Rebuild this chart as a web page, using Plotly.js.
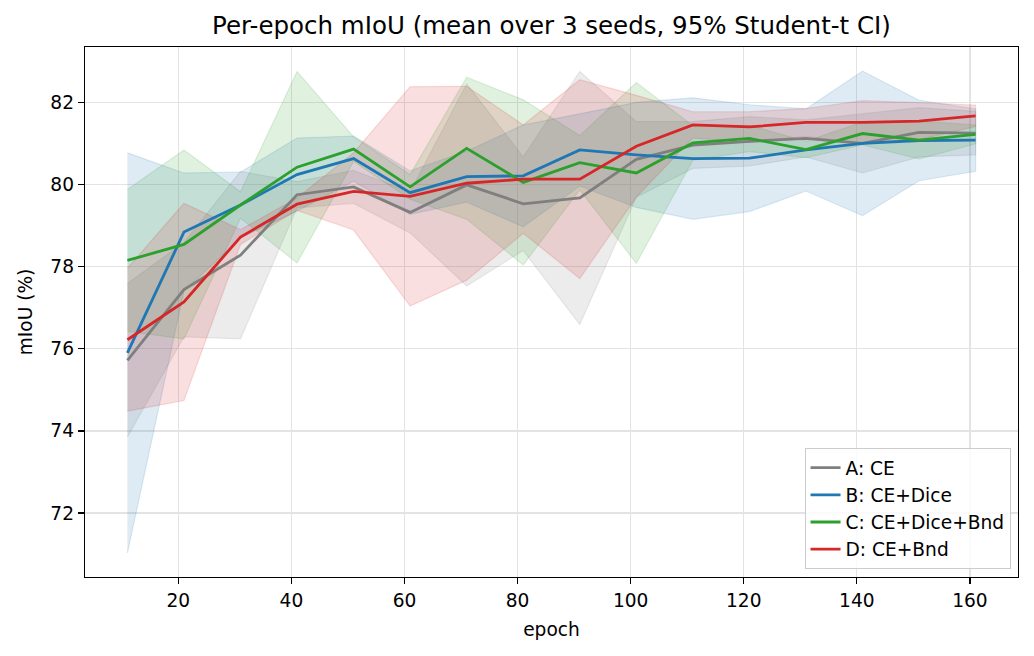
<!DOCTYPE html>
<html>
<head>
<meta charset="utf-8">
<script src="https://cdn.plot.ly/plotly-3.0.1.min.js"></script>
<style>
  html, body { margin: 0; padding: 0; background: #ffffff; }
  #chart { width: 1034px; height: 656px; }
</style>
</head>
<body>
<div id="chart"></div>
<script>
// Epochs (x)
const epochs = [11, 21, 31, 41, 51, 61, 71, 81, 91, 101, 111, 121, 131, 141, 151, 161];

// Series names
const seriesNames = ["A: CE", "B: CE+Dice", "C: CE+Dice+Bnd", "D: CE+Bnd"];

// Mean mIoU (%) per epoch
const meanA = [75.72, 77.44, 78.28, 79.75, 79.94, 79.32, 79.99, 79.53, 79.67, 80.61, 80.96, 81.05, 81.12, 81.00, 81.27, 81.25];
const meanB = [75.90, 78.84, 79.50, 80.24, 80.63, 79.80, 80.19, 80.21, 80.84, 80.72, 80.63, 80.64, 80.84, 81.00, 81.07, 81.08];
const meanC = [78.15, 78.54, 79.50, 80.42, 80.86, 79.94, 80.88, 80.05, 80.53, 80.28, 81.01, 81.12, 80.85, 81.24, 81.08, 81.22];
const meanD = [76.22, 77.14, 78.72, 79.52, 79.83, 79.71, 80.03, 80.13, 80.13, 80.93, 81.45, 81.40, 81.51, 81.51, 81.54, 81.67];

// 95% Student-t CI half-widths
const ciA = [1.87, 1.15, 2.04, 0.32, 0.40, 0.50, 2.46, 1.14, 3.08, 0.92, 0.57, 0.60, 0.45, 0.72, 0.60, 0.53];
const ciB = [4.87, 1.44, 0.80, 0.89, 0.55, 0.53, 0.62, 1.24, 0.88, 1.28, 1.48, 1.30, 1.00, 1.76, 0.98, 0.76];
const ciC = [1.73, 2.30, 0.32, 2.33, 0.30, 0.30, 1.73, 2.01, 0.66, 2.20, 0.42, 0.32, 0.20, 0.28, 0.46, 0.23];
const ciD = [1.74, 2.40, 0.18, 0.15, 0.94, 2.67, 2.36, 1.32, 2.42, 1.24, 0.32, 0.37, 0.34, 0.53, 0.45, 0.26];

const xTicks = [20, 40, 60, 80, 100, 120, 140, 160];
const yTicks = [72, 74, 76, 78, 80, 82];

const means = [meanA, meanB, meanC, meanD];
const cis = [ciA, ciB, ciC, ciD];
const colors = [[127,127,127], [31,119,180], [44,160,44], [214,39,40]];

const rgba = (c, a) => `rgba(${c[0]},${c[1]},${c[2]},${a})`;

const traces = [];
let ymin = Infinity, ymax = -Infinity;
for (let s = 0; s < 4; s++) {
  const m = means[s], h = cis[s];
  const lo = m.map((v, i) => v - h[i]);
  const hi = m.map((v, i) => v + h[i]);
  ymin = Math.min(ymin, ...lo);
  ymax = Math.max(ymax, ...hi);
  traces.push({
    x: epochs.concat(epochs.slice().reverse()),
    y: hi.concat(lo.slice().reverse()),
    type: 'scatter', mode: 'lines', fill: 'toself',
    fillcolor: rgba(colors[s], 0.15),
    line: { color: rgba(colors[s], 0.15), width: 1.2 },
    showlegend: false, hoverinfo: 'skip'
  });
}
for (let s = 0; s < 4; s++) {
  traces.push({
    x: epochs, y: means[s], type: 'scatter', mode: 'lines',
    name: seriesNames[s],
    line: { color: rgba(colors[s], 1), width: 2.8 }
  });
}

const xpad = (epochs[epochs.length - 1] - epochs[0]) * 0.05;
const ypad = (ymax - ymin) * 0.05;

const font = 'DejaVu Sans, Liberation Sans, sans-serif';
const fs = 18.6;
const layout = {
  width: 1034, height: 656,
  paper_bgcolor: '#ffffff', plot_bgcolor: '#ffffff',
  margin: { l: 85, r: 16, t: 47, b: 79 },
  font: { family: font, size: fs, color: '#000000' },
  title: {
    text: 'Per-epoch mIoU (mean over 3 seeds, 95% Student-t CI)',
    font: { family: font, size: 24.5, color: '#000000' },
    x: 0.5, xref: 'paper', xanchor: 'center',
    y: 1, yref: 'paper', yanchor: 'bottom', pad: { b: 13 }
  },
  xaxis: {
    range: [epochs[0] - xpad, epochs[epochs.length - 1] + xpad],
    tickvals: xTicks, ticktext: xTicks.map(String),
    ticks: 'outside', ticklen: 6, tickwidth: 1.3, tickcolor: '#000',
    showline: true, mirror: true, linecolor: '#000', linewidth: 1.3,
    showgrid: true, gridcolor: '#e3e3e3', gridwidth: 1.2,
    zeroline: false,
    tickfont: { family: font, size: fs },
    title: { text: 'epoch', font: { family: font, size: fs }, standoff: 13 }
  },
  yaxis: {
    range: [ymin - ypad, ymax + ypad],
    tickvals: yTicks, ticktext: yTicks.map(String),
    ticks: 'outside', ticklen: 6, tickwidth: 1.3, tickcolor: '#000',
    showline: true, mirror: true, linecolor: '#000', linewidth: 1.3,
    showgrid: true, gridcolor: '#e3e3e3', gridwidth: 1.2,
    zeroline: false,
    tickfont: { family: font, size: fs },
    title: { text: 'mIoU (%)', font: { family: font, size: fs }, standoff: 12 }
  },
  legend: {
    x: 0.992, y: 0.015, xanchor: 'right', yanchor: 'bottom',
    bgcolor: 'rgba(255,255,255,0.8)', bordercolor: '#cccccc', borderwidth: 1,
    font: { family: font, size: fs },
    tracegroupgap: 0
  },
  showlegend: true
};

Plotly.newPlot('chart', traces, layout, { staticPlot: true, displayModeBar: false });
</script>
</body>
</html>
